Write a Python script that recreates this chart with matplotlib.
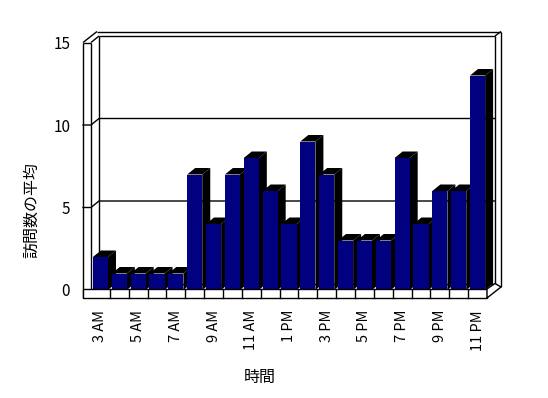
import matplotlib
matplotlib.use('Agg')
import matplotlib.pyplot as plt
from matplotlib.patches import Polygon, Rectangle

# Data: average visits per hour
hours = ['3 AM', '4 AM', '5 AM', '6 AM', '7 AM', '8 AM', '9 AM', '10 AM', '11 AM', '12 PM',
         '1 PM', '2 PM', '3 PM', '4 PM', '5 PM', '6 PM', '7 PM', '8 PM', '9 PM', '10 PM', '11 PM']
visits = [2, 1, 1, 1, 1, 7, 4, 7, 8, 6, 4, 9, 7, 3, 3, 3, 8, 4, 6, 6, 13]
yticks = [0, 5, 10, 15]

plt.rcParams['font.family'] = ['Noto Sans CJK JP', 'DejaVu Sans']

W, H = 548, 398
fig = plt.figure(figsize=(W / 100, H / 100), dpi=100)

# front plane of the 3D box, in pixels
left, right, bottom, top = 91, 487, 290, 42.5
ax = fig.add_axes([left / W, (H - bottom) / H, (right - left) / W, (bottom - top) / H])
n = len(visits)
ymax = 15
ax.set_xlim(-0.5, n - 0.5)
ax.set_ylim(0, ymax)
ax.patch.set_visible(False)
for s in ax.spines.values():
    s.set_visible(False)

sx = n / (right - left)
sy = ymax / (bottom - top)


def X(px):
    return (px - left) * sx - 0.5


def Y(py):
    return (bottom - py) * sy


def line(pts, z=1):
    ax.plot([X(p[0]) for p in pts], [Y(p[1]) for p in pts], color='black', lw=1,
            clip_on=False, zorder=z, solid_capstyle='butt')


# depth offset (pixels)
dxp, dyp = 8, 6.5
ddx, ddy = dxp * sx, dyp * sy
wall = 83      # outer edge of left wall
floor = 298    # bottom edge of floor slab

# back wall and left wall outline
line([(wall, top), (wall, floor)])
line([(left, top), (left, bottom - 1)])
line([(left + dxp, top - dyp), (left + dxp, bottom - dyp)])
line([(wall, top), (left, top)])
line([(wall, top), (wall + 14, top - 11)])
line([(left, top), (left + dxp, top - dyp)])
line([(wall + 14, top - 11), (right + 14, top - 11)])
line([(left + dxp, top - dyp), (right + dxp, top - dyp)])
line([(right + dxp, top - dyp), (right + dxp, bottom - dyp)])
line([(right + 14, top - 11), (right + 14, floor - 11)])
line([(right + dxp, top - dyp), (right + 14, top - 11)])
line([(left + dxp, bottom - dyp), (right + dxp, bottom - dyp)])

# gridlines on the back wall
for v in yticks[1:-1]:
    ax.plot([X(wall), -0.5, -0.5 + ddx, n - 0.5 + ddx], [v, v, v + ddy, v + ddy],
            color='black', lw=1, clip_on=False, zorder=1)

# bars: side and top faces (black), then front faces (navy)
xs = list(range(n))
bw = 0.8
for i, v in zip(xs, visits):
    x0, x1 = i - bw / 2, i + bw / 2
    ax.add_patch(Polygon([(x1, 0), (x1, v), (x1 + ddx, v + ddy), (x1 + ddx, ddy)],
                         closed=True, fc='black', ec='none', zorder=2, clip_on=False))
    ax.add_patch(Polygon([(x0, v), (x1, v), (x1 + ddx, v + ddy), (x0 + ddx, v + ddy)],
                         closed=True, fc='black', ec='none', zorder=2, clip_on=False))
ax.bar(xs, visits, width=bw, color='#000080', zorder=3)

# floor slab front face with category ticks
ax.add_patch(Rectangle((X(wall), Y(floor)), X(right) - X(wall), Y(bottom - 1) - Y(floor),
                       fc='white', ec='black', lw=1, zorder=5, clip_on=False))
for i in range(n - 1):
    ax.plot([i + 0.5, i + 0.5], [Y(bottom - 1), Y(floor)], color='black', lw=1,
            clip_on=False, zorder=6)
ax.add_patch(Polygon([(X(right), Y(bottom - 1)), (X(right + dxp), Y(bottom - dyp)),
                      (X(right + 14), Y(floor - 11)), (X(right), Y(floor))],
                     closed=True, fc='white', ec='black', lw=1, zorder=5, clip_on=False))

ax.set_xticks(xs[::2])
ax.set_xticklabels(hours[::2], rotation=90, va='top', ha='center', fontsize=10.5)
ax.set_yticks(yticks)
ax.set_yticklabels([str(t) for t in yticks], fontsize=11)
ax.tick_params(axis='x', length=0, pad=14.4)
ax.tick_params(axis='y', length=0, pad=15)

fig.text(260 / W, 1 - 377 / H, '時間', ha='center', va='center', fontsize=11.5)
fig.text(32 / W, 1 - 210 / H, '訪問数の平均', ha='center', va='center', rotation=90, fontsize=11.5)

fig.savefig('out.png', dpi=100)
